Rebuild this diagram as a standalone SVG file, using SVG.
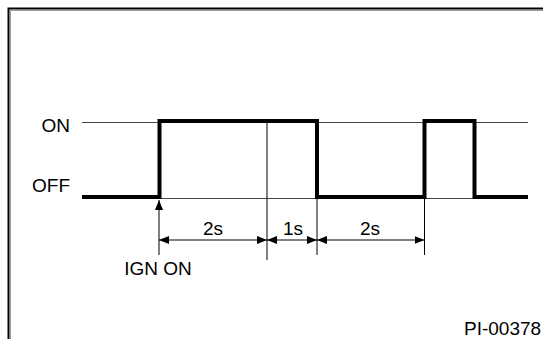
<svg xmlns="http://www.w3.org/2000/svg" width="543" height="339" viewBox="0 0 543 339">
<defs>
<style>
.t{font-family:"Liberation Sans",Arial,sans-serif;font-size:19px;fill:#000}
.thin{stroke:#000;stroke-width:1;fill:none}
.grid{stroke:#444;stroke-width:1;fill:none}
.sig{stroke:#000;stroke-width:4;fill:none;stroke-linejoin:miter;stroke-linecap:square}
</style>
<marker id="ah" viewBox="0 0 10 8" refX="10" refY="4" markerWidth="10" markerHeight="8" markerUnits="userSpaceOnUse" orient="auto-start-reverse">
<path d="M0,0 L10,4 L0,8 Z" fill="#000"/>
</marker>
</defs>
<rect width="543" height="339" fill="#fff"/>
<g id="frame">
<path d="M8.5,339 V8.5 H543" stroke="#000" stroke-width="2" fill="none"/>
<path d="M10.5,339 V10.5 H543" stroke="#999" stroke-width="1" fill="none"/>
</g>
<g id="levels">
<line class="grid" x1="82" y1="122.5" x2="528" y2="122.5"/>
<line class="grid" x1="82" y1="198.5" x2="528" y2="198.5"/>
<text class="t" x="70" y="132" text-anchor="end">ON</text>
<text class="t" x="70" y="192" text-anchor="end">OFF</text>
</g>
<g id="signal">
<path class="sig" d="M84,197 H159.5 V121 H317 V197 H424.5 V121 H474.5 V197 H526"/>
</g>
<g id="connectors">
<line class="thin" x1="267" y1="122" x2="267" y2="260"/>
<line class="thin" x1="317" y1="199" x2="317" y2="255"/>
<line class="thin" x1="424.5" y1="199" x2="424.5" y2="255"/>
<line class="thin" x1="159" y1="255" x2="159" y2="200" marker-end="url(#ah)"/>
<line class="thin" x1="159" y1="240" x2="267" y2="240" marker-start="url(#ah)" marker-end="url(#ah)"/>
<line class="thin" x1="267" y1="240" x2="317" y2="240" marker-start="url(#ah)" marker-end="url(#ah)"/>
<line class="thin" x1="317" y1="240" x2="424.5" y2="240" marker-start="url(#ah)" marker-end="url(#ah)"/>
</g>
<g id="labels">
<text class="t" x="213" y="235" text-anchor="middle">2s</text>
<text class="t" x="293" y="235" text-anchor="middle">1s</text>
<text class="t" x="370" y="235" text-anchor="middle">2s</text>
<text class="t" x="158" y="275" text-anchor="middle">IGN ON</text>
<text class="t" x="464" y="335">PI-00378</text>
</g>
</svg>
